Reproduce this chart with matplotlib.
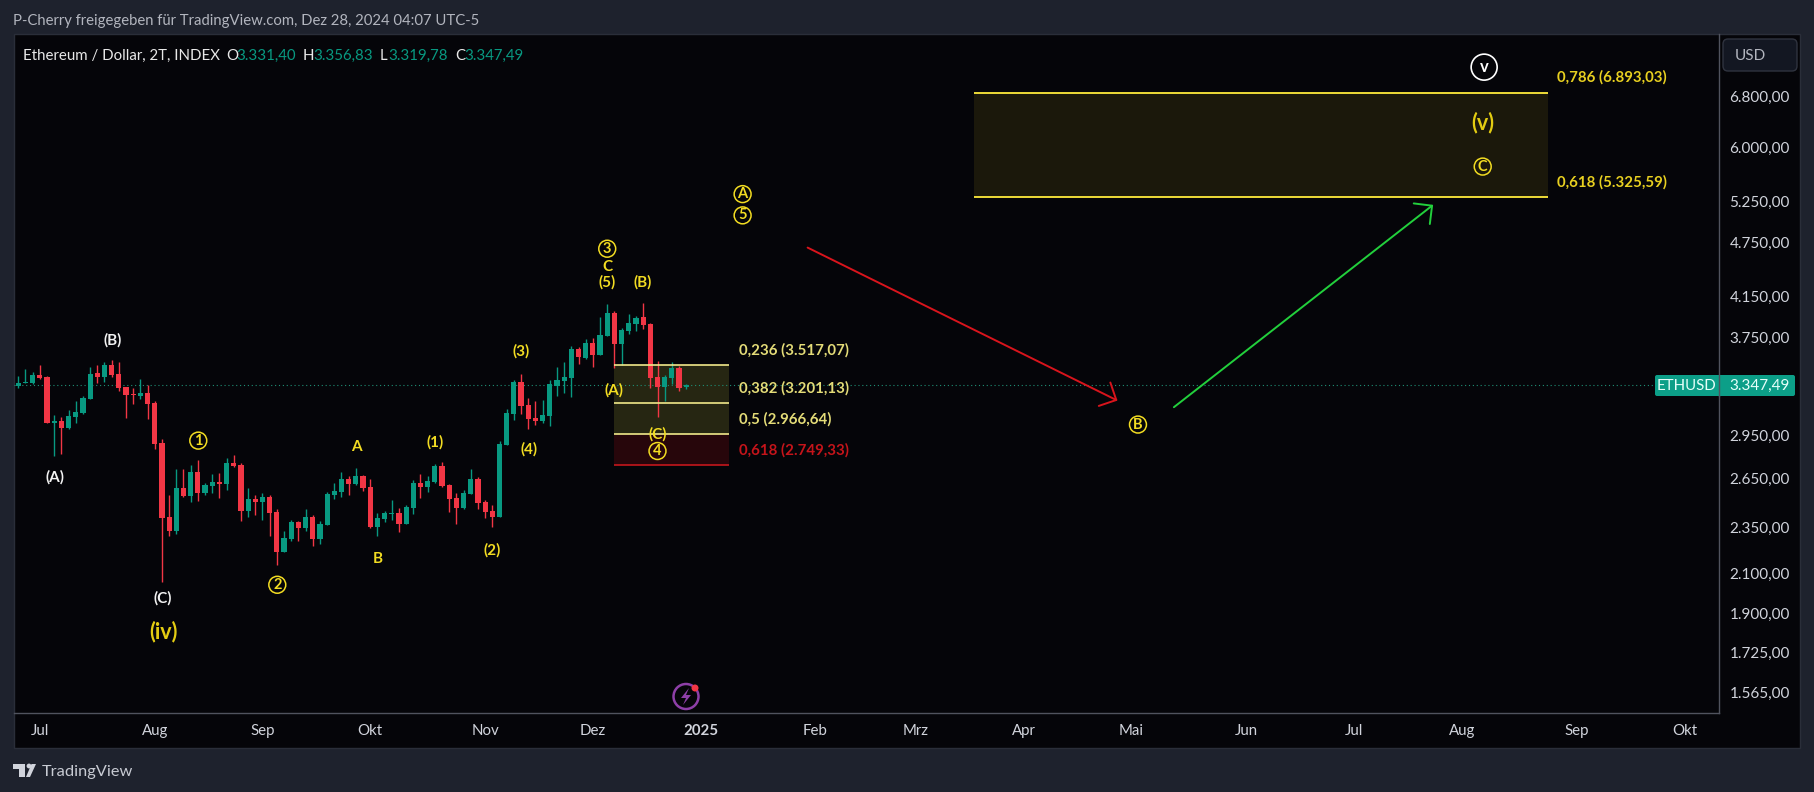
import matplotlib
matplotlib.use("Agg")
import matplotlib.pyplot as plt
from matplotlib.patches import Rectangle, FancyBboxPatch, Circle, Polygon
from matplotlib.ticker import NullLocator

plt.rcParams['font.family'] = ['Lato', 'DejaVu Sans']

# Two-day candles
opens = [3345, 3368, 3368, 3434, 3417, 3054, 3067, 3014, 3096, 3127,
         3239, 3454, 3417, 3520, 3443, 3337, 3278, 3261, 3286, 3206,
         2904, 2420, 2335, 2600, 2548, 2704, 2567, 2612, 2638, 2625,
         2764, 2751, 2456, 2530, 2512, 2542, 2450, 2220, 2292, 2390,
         2355, 2420, 2292, 2373, 2555, 2574, 2657, 2625, 2677, 2606,
         2361, 2408, 2438, 2444, 2379, 2475, 2631, 2606, 2638, 2744,
         2618, 2536, 2475, 2561, 2657, 2512, 2456, 2420, 2890, 3119,
         3376, 3190, 3089, 3067, 3104, 3343, 3384, 3409, 3661, 3581,
         3716, 3608, 3780, 4001, 3707, 3828, 3893, 3962, 3893, 3417,
         3334, 3409, 3494, 3331.40]
highs = [3426, 3483, 3457, 3520, 3423, 3112, 3094, 3150, 3224, 3261,
         3506, 3520, 3543, 3564, 3546, 3337, 3326, 3398, 3348, 3221,
         2933, 2555, 2724, 2724, 2749, 2783, 2633, 2691, 2695, 2799,
         2819, 2762, 2600, 2555, 2565, 2553, 2468, 2337, 2402, 2396,
         2468, 2432, 2396, 2574, 2631, 2704, 2677, 2729, 2684, 2657,
         2444, 2456, 2524, 2475, 2493, 2651, 2691, 2677, 2758, 2771,
         2625, 2567, 2587, 2724, 2670, 2524, 2491, 2919, 3158, 3392,
         3443, 3245, 3221, 3229, 3392, 3503, 3546, 3689, 3680, 3753,
         3762, 3962, 4091, 4021, 3856, 3991, 3971, 4101, 3903, 3554,
         3434, 3546, 3511, 3356.83]
lows = [3329, 3365, 3357, 3400, 3054, 2815, 2826, 3009, 3054, 3122,
        3239, 3370, 3376, 3420, 3305, 3089, 3198, 3237, 3081, 2864,
        2062, 2311, 2322, 2544, 2513, 2518, 2555, 2567, 2536, 2587,
        2738, 2396, 2420, 2430, 2402, 2309, 2150, 2218, 2279, 2281,
        2339, 2253, 2264, 2373, 2530, 2542, 2553, 2618, 2580, 2355,
        2309, 2390, 2402, 2331, 2379, 2438, 2536, 2574, 2631, 2606,
        2450, 2379, 2468, 2561, 2468, 2414, 2361, 2420, 2890, 3074,
        3119, 3006, 3037, 3052, 3029, 3261, 3286, 3253, 3528, 3572,
        3503, 3608, 3780, 3491, 3520, 3800, 3828, 3846, 3326, 3096,
        3221, 3359, 3302, 3319.78]
closes = [3368, 3376, 3434, 3406, 3054, 3069, 3014, 3101, 3134, 3245,
          3442, 3417, 3520, 3434, 3329, 3272, 3272, 3286, 3200, 2897,
          2414, 2335, 2600, 2548, 2704, 2567, 2618, 2638, 2625, 2764,
          2742, 2456, 2530, 2512, 2542, 2444, 2220, 2298, 2390, 2355,
          2420, 2292, 2379, 2561, 2580, 2657, 2625, 2677, 2600, 2361,
          2414, 2444, 2444, 2379, 2481, 2631, 2606, 2644, 2744, 2612,
          2530, 2475, 2567, 2657, 2505, 2450, 2420, 2897, 3127, 3376,
          3181, 3081, 3067, 3112, 3359, 3392, 3417, 3661, 3590, 3716,
          3608, 3790, 4001, 3707, 3837, 3903, 3952, 3884, 3409, 3334,
          3417, 3494, 3326, 3347.49]
last_close = 3347.49

# Axis ticks
price_ticks = [6800, 6000, 5250, 4750, 4150, 3750, 2950, 2650, 2350, 2100, 1900, 1725, 1565]
price_labels = ['6.800,00', '6.000,00', '5.250,00', '4.750,00', '4.150,00', '3.750,00', '2.950,00',
                '2.650,00', '2.350,00', '2.100,00', '1.900,00', '1.725,00', '1.565,00']
month_bars = [3, 19, 34, 49, 65, 80, 95, 111, 125, 140, 155, 171, 186, 201, 217, 232]
month_labels = ['Jul', 'Aug', 'Sep', 'Okt', 'Nov', 'Dez', '2025', 'Feb', 'Mrz', 'Apr', 'Mai', 'Jun',
                'Jul', 'Aug', 'Sep', 'Okt']

# Fib boxes
low_fib_prices = [3517.07, 3201.13, 2966.64, 2749.33]
low_fib_labels = ['0,236 (3.517,07)', '0,382 (3.201,13)', '0,5 (2.966,64)', '0,618 (2.749,33)']
low_fib_bars = [83, 99]
high_fib_prices = [6893.03, 5325.59]
high_fib_labels = ['0,786 (6.893,03)', '0,618 (5.325,59)']
high_fib_bars = [133, 213]

# Wave counts: text, bar, price
white_waves = [('(A)', 5.07, 2669), ('(B)', 13.1, 3744), ('(C)', 20.1, 1980)]
yellow_waves = [('A', 47.1, 2873), ('B', 50, 2180), ('(1)', 58.1, 2907), ('(2)', 66, 2227),
                ('(3)', 70.08, 3637), ('(4)', 71.05, 2859), ('(5)', 82, 4315), ('C', 82, 4477),
                ('(B)', 87, 4315), ('(A)', 83, 3310), ('(C)', 89, 2969)]
big_waves = [('(iv)', 20.15, 1823), ('(v)', 203.9, 6399)]
circled_waves = [('1', 25.06, 2921), ('2', 36.06, 2047), ('3', 82, 4689), ('4', 89, 2847),
                 ('5', 100.85, 5091), ('A', 100.85, 5365), ('B', 155.9, 3039), ('C', 203.9, 5742)]

# Arrows: start bar, start price, end bar, end price
red_arrow = [109.9, 4702, 153.05, 3224]
green_arrow = [160.9, 3172, 197, 5225]

outer = '#1e222d'
pane = '#050509'
sep = '#50535e'
axis_text = '#d1d4dc'
up = '#089981'
down = '#f23645'
yellow = '#f2dc22'
pale = '#f0e88a'

W, H = 1814, 792
fig = plt.figure(figsize=(W / 100, H / 100), dpi=100, facecolor=outer)

# page furniture sits in pixel coordinates, one layer under and one over the chart
under = fig.add_axes([0, 0, 1, 1], zorder=0)
over = fig.add_axes([0, 0, 1, 1], zorder=5)
for a in (under, over):
    a.set_xlim(0, W)
    a.set_ylim(H, 0)
    a.axis('off')
under.add_patch(Rectangle((14, 34), 1786, 714, fc=pane, ec='#2a2e39', lw=1))

left, right, top, bottom = 14, 1719, 34, 713
ax = fig.add_axes([left / W, 1 - bottom / H, (right - left) / W, (bottom - top) / H], zorder=2)
ax.patch.set_alpha(0)
ax.set_yscale('log')
ax.set_ylim(1492, 7963)
ax.set_xlim(-0.6, 236.8)

bars = list(range(len(opens)))
colors = [up if c >= o else down for o, c in zip(opens, closes)]
ax.vlines(bars, lows, highs, colors=colors, lw=1.0, zorder=3)
ax.bar(bars, [abs(c - o) for o, c in zip(opens, closes)], bottom=[min(o, c) for o, c in zip(opens, closes)],
       width=0.72, color=colors, lw=0, zorder=4)
ax.axhline(last_close, color='#1f8f75', ls=(0, (1, 2.5)), lw=0.8, zorder=2)

# lower fib box
ax.fill_between(low_fib_bars, low_fib_prices[2], low_fib_prices[0], color='#262612', lw=0, zorder=1)
ax.fill_between(low_fib_bars, low_fib_prices[3], low_fib_prices[2], color='#27060b', lw=0, zorder=1)
for i, (p, t) in enumerate(zip(low_fib_prices, low_fib_labels)):
    c = '#c4161c' if i == 3 else pale
    ax.hlines(p, low_fib_bars[0], low_fib_bars[1], color=c, lw=1.2, zorder=5)
    ax.annotate(t, (low_fib_bars[1] + 1.4, p), xytext=(0, 15), textcoords='offset pixels', va='center',
                color='#c5141a' if i == 3 else '#e4dc78', fontsize=10.8, fontweight='bold', zorder=6)

# upper fib box
ax.fill_between(high_fib_bars, high_fib_prices[1], high_fib_prices[0], color='#1b180b', lw=0, zorder=1)
for p, t in zip(high_fib_prices, high_fib_labels):
    ax.hlines(p, high_fib_bars[0], high_fib_bars[1], color='#ffeb3b', lw=1.3, zorder=5)
    ax.annotate(t, (high_fib_bars[1] + 1.3, p), xytext=(0, 15), textcoords='offset pixels', va='center',
                color='#e8d020', fontsize=10.8, fontweight='bold', zorder=6)

for t, x, p in white_waves:
    ax.text(x, p, t, color='#f2f2f2', fontsize=11, fontweight='bold', ha='center', va='center', zorder=7)
for t, x, p in yellow_waves:
    ax.text(x, p, t, color=yellow, fontsize=11, fontweight='bold', ha='center', va='center', zorder=7)
for t, x, p in big_waves:
    ax.text(x, p, t, color='#e3cc12', fontsize=15.5, fontweight='bold', ha='center', va='center', zorder=7)
for t, x, p in circled_waves:
    ax.text(x, p, t, color=yellow, fontsize=10.5, fontweight='bold', ha='center', va='center', zorder=7,
            bbox=dict(boxstyle='circle,pad=0.1', fc='none', ec=yellow, lw=1.1))
ax.text(204.1, 7338, 'v', color='white', fontsize=12, fontweight='bold', ha='center', va='center', zorder=7,
        bbox=dict(boxstyle='circle,pad=0.3', fc='none', ec='white', lw=1.2))

for arrow, c in ((red_arrow, '#d9141c'), (green_arrow, '#22d03c')):
    ax.annotate('', xy=(arrow[2], arrow[3]), xytext=(arrow[0], arrow[1]),
                arrowprops=dict(arrowstyle='->,head_length=0.94,head_width=0.94', color=c, lw=1.4, shrinkA=0, shrinkB=0),
                zorder=6)

ax.yaxis.tick_right()
ax.set_yticks(price_ticks)
ax.set_yticklabels(price_labels, va='center')
ax.yaxis.set_minor_locator(NullLocator())
ax.set_xticks(month_bars)
ax.set_xticklabels(month_labels)
ax.get_xticklabels()[6].set_fontweight('bold')
ax.tick_params(axis='y', length=0, pad=7.5, labelsize=11, labelcolor=axis_text)
ax.tick_params(axis='x', length=0, pad=8, labelsize=10.8, labelcolor=axis_text)
for s in ('top', 'left'):
    ax.spines[s].set_visible(False)
for s in ('right', 'bottom'):
    ax.spines[s].set_color(sep)
    ax.spines[s].set_linewidth(1)

# header
over.text(13, 21, 'P-Cherry freigegeben für TradingView.com, Dez 28, 2024 04:07 UTC-5', color='#b2b5be',
          fontsize=10.75, va='center')
over.text(23, 55.5, 'Ethereum / Dollar, 2T, INDEX', color='#e8e8e8', fontsize=10.8, va='center')
for x, t, c in [(226, 'O', '#e8e8e8'), (236, '3.331,40', up), (303, 'H', '#e8e8e8'), (313, '3.356,83', up),
                (380, 'L', '#e8e8e8'), (388, '3.319,78', up), (455, 'C', '#e8e8e8'), (464, '3.347,49', up)]:
    over.text(x, 55.5, t, color=c, fontsize=10.8, va='center')

# USD button
over.add_patch(FancyBboxPatch((1727, 43), 66, 24, boxstyle='round,pad=4,rounding_size=5', fc='#131722', ec='#2f333f', lw=1))
over.text(1735, 55.5, 'USD', color='#b2b5be', fontsize=11, va='center')

# last price tag
over.add_patch(FancyBboxPatch((1657, 377), 136, 17, boxstyle='round,pad=2,rounding_size=2', fc='#0c9f88', ec='none'))
over.plot([1719, 1719], [375, 396], color=sep, lw=1)
over.text(1687, 386, 'ETHUSD', color='#e6fffa', fontsize=10.8, ha='center', va='center')
over.text(1760, 386, '3.347,49', color='#e6fffa', fontsize=11, ha='center', va='center')

# purple event icon
over.add_patch(Circle((686, 696.5), 12.5, fc='none', ec='#8e3fa8', lw=1.8))
over.add_patch(Polygon([(689, 688), (681, 698), (686, 698), (683, 705), (691, 695), (686, 695)], fc='#8e3fa8', ec='none'))
over.add_patch(Circle((695, 688), 3.5, fc='#f23645', ec='none'))

# TradingView logo
over.add_patch(Polygon([(13, 764), (25, 764), (25, 777), (19, 777), (19, 769), (13, 769)], fc='#d1d4dc', ec='none'))
over.add_patch(Circle((29, 766), 2.4, fc='#d1d4dc', ec='none'))
over.add_patch(Polygon([(30, 777), (36, 764), (31.5, 764), (26, 777)], fc='#d1d4dc', ec='none'))
over.text(42, 772, 'TradingView', color='#c8cbd3', fontsize=11.8, va='center')

fig.savefig('out.png', dpi=100, facecolor=outer)
